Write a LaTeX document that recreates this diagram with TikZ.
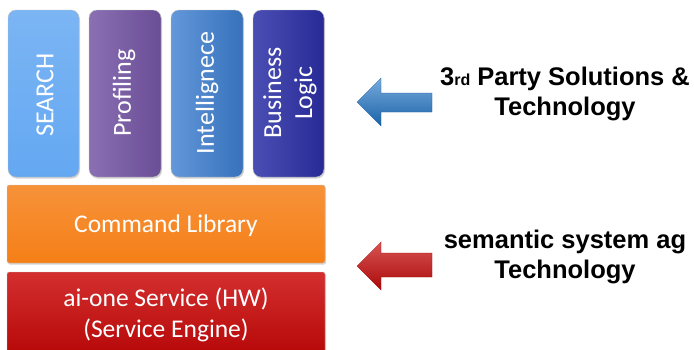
\documentclass[tikz,border=0pt]{standalone}
\usepackage{fontspec}
\setmainfont{Liberation Sans}
\newfontfamily\boxfont{Carlito}
\usetikzlibrary{shadows}
\definecolor{cSearch}{HTML}{64A8F2}
\definecolor{cProf}{HTML}{7656A6}
\definecolor{cIntel}{HTML}{3C7ED0}
\definecolor{cBiz}{HTML}{2B2FA6}
\definecolor{cCmd}{HTML}{F57F17}
\definecolor{cSvc}{HTML}{CC0A0A}
\definecolor{cBlueArr}{HTML}{1E73C6}
\definecolor{cRedArr}{HTML}{C80A0A}
\tikzset{
  colbox/.style={rounded corners=8pt, draw=black!25, line width=0.4pt,
     drop shadow={shadow xshift=1pt, shadow yshift=-1.5pt, opacity=0.35}},
  layerbox/.style={rounded corners=2pt, draw=black!20, line width=0.4pt,
     drop shadow={shadow xshift=1pt, shadow yshift=-1.5pt, opacity=0.35}},
  boxtxt/.style={text=white, font=\boxfont\fontsize{26}{31}\selectfont, align=center, inner sep=0pt},
  sidetxt/.style={text=black, font=\bfseries\fontsize{25.5}{30.5}\selectfont, align=center, inner sep=0pt},
}
\begin{document}
\begin{tikzpicture}[x=1pt,y=-1pt]
\useasboundingbox (0,0) rectangle (694,349);
% column boxes
\path[colbox, top color=cSearch!85!white, bottom color=cSearch] (8,10) rectangle (79,177);
\path[colbox, left color=cProf!85!white, right color=cProf!90!black] (89,10) rectangle (161,177);
\path[colbox, left color=cIntel!80!white, right color=cIntel!90!black] (171,10) rectangle (243,177);
\path[colbox, left color=cBiz!85!white, right color=cBiz!90!black] (253,10) rectangle (324,177);
\node[boxtxt, rotate=90] (search) at (45,95) {SEARCH};
\node[boxtxt, rotate=90] (prof) at (124,93) {Profiling};
\node[boxtxt, rotate=90] (intel) at (207,93) {Intellignece};
\node[boxtxt, rotate=90] (biz) at (290,93) {Business\\Logic};
% layers
\path[layerbox, top color=cCmd!85!white, bottom color=cCmd] (7,185) rectangle (325,263);
\node[boxtxt, font=\boxfont\fontsize{25.5}{31}\selectfont] (cmd) at (166,226) {Command Library};
\path[layerbox, top color=cSvc!85!white, bottom color=cSvc!90!black] (7,272) rectangle (325,352);
\node[boxtxt, font=\boxfont\fontsize{25.5}{31.5}\selectfont] (svc) at (166,315) {ai-one Service (HW)\\(Service Engine)};
% arrows
\path[top color=cBlueArr!60!white, bottom color=cBlueArr!85!black, draw=cBlueArr!80!black, line width=0.3pt]
  (357,102) -- (381,78) -- (381,93) -- (432,93) -- (432,112) -- (381,112) -- (381,126) -- cycle;
\path[top color=cRedArr!70!white, bottom color=cRedArr!85!black, draw=cRedArr!80!black, line width=0.3pt]
  (357,266) -- (381,242) -- (381,253) -- (432,253) -- (432,277) -- (381,277) -- (381,290) -- cycle;
% side texts
\node[sidetxt] (third) at (565,94) {3{\fontsize{16}{16}\selectfont rd} Party Solutions \&\\Technology};
\node[sidetxt] (sem) at (565,257) {semantic system ag\\Technology};
\end{tikzpicture}
\end{document}
